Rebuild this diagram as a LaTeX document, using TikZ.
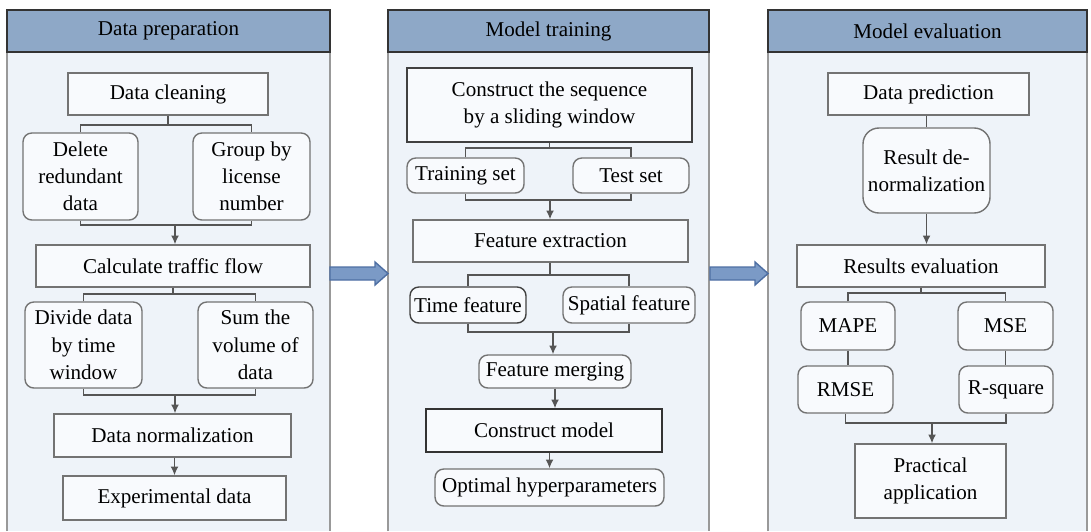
\documentclass[tikz,border=0pt]{standalone}
\usepackage{fontspec}
\setmainfont{Liberation Serif}
\usetikzlibrary{arrows.meta}
\definecolor{HeadBlue}{HTML}{8EA8C7}
\definecolor{PanelBlue}{HTML}{EEF3F9}
\definecolor{BoxFill}{HTML}{F8FAFD}
\definecolor{ArrowBlue}{HTML}{7B9AC6}
\definecolor{ArrowEdge}{HTML}{4E6FA3}
\definecolor{LineGray}{HTML}{555555}

\begin{document}
\begin{tikzpicture}[x=0.02cm, y=-0.02cm,
    font=\fontsize{12}{15.5}\selectfont,
    header/.style={draw=black!80, line width=1pt, fill=HeadBlue, minimum height=0.84cm, inner sep=0pt},
    plainbox/.style={draw=black!55, line width=0.8pt, fill=BoxFill, inner sep=1pt, align=center},
    roundbox/.style={plainbox, rounded corners=5pt},
    link/.style={draw=LineGray, line width=0.8pt},
    flow/.style={link, -{Latex[length=5pt, width=4.5pt]}}]
    \useasboundingbox (0,0) rectangle (1091,531);

    % Panels
    \foreach \xa/\xb in {7/330, 388/709, 768/1087} {
        \fill[PanelBlue] (\xa,52) rectangle (\xb,531);
        \draw[black!40, line width=1pt] (\xa,531) -- (\xa,52) -- (\xb,52) -- (\xb,531);
    }
    \node[header, minimum width=6.46cm] (prep) at (168.5,31) {Data preparation};
    \node[header, minimum width=6.42cm] (train) at (548.5,31) {Model training};
    \node[header, minimum width=6.38cm] (eval) at (927.5,31) {Model evaluation};

    % Block arrows between panels
    \fill[ArrowBlue, draw=ArrowEdge, line width=0.8pt]
        (330,267) -- (375,267) -- (375,262) -- (388,273.5) -- (375,285) -- (375,280) -- (330,280) -- cycle;
    \fill[ArrowBlue, draw=ArrowEdge, line width=0.8pt]
        (710,267) -- (755,267) -- (755,262) -- (768,273.5) -- (755,285) -- (755,280) -- (710,280) -- cycle;

    % Data preparation
    \node[plainbox, minimum width=4cm, minimum height=0.84cm] (clean) at (168,94) {Data cleaning};
    \node[roundbox, minimum width=2.3cm, minimum height=1.74cm] (delete) at (80.5,176.5) {Delete\\redundant\\data};
    \node[roundbox, minimum width=2.34cm, minimum height=1.74cm] (group) at (251.5,176.5) {Group by\\license\\number};
    \node[plainbox, minimum width=5.48cm, minimum height=0.84cm] (calc) at (173,266) {Calculate traffic flow};
    \node[roundbox, minimum width=2.34cm, minimum height=1.72cm] (divide) at (83.5,345) {Divide data\\by time\\window};
    \node[roundbox, minimum width=2.3cm, minimum height=1.72cm] (sum) at (255.5,345) {Sum the\\volume of\\data};
    \node[plainbox, minimum width=4.74cm, minimum height=0.86cm] (norm) at (172.5,435.5) {Data normalization};
    \node[plainbox, minimum width=4.46cm, minimum height=0.88cm] (expdata) at (174.5,498) {Experimental data};

    \coordinate (s1) at (168,125);
    \coordinate (m1) at (175,225);
    \coordinate (s2) at (173,294);
    \coordinate (m2) at (175,395);
    \draw[link] (clean.south) -- (s1);
    \draw[link] (delete.north) |- (s1) -| (group.north);
    \draw[link] (delete.south) |- (m1) -| (group.south);
    \draw[flow] (m1) -- (m1 |- calc.north);
    \draw[link] (calc.south) -- (s2);
    \draw[link] (divide.north) |- (s2) -| (sum.north);
    \draw[link] (divide.south) |- (m2) -| (sum.south);
    \draw[flow] (m2) -- (m2 |- norm.north);
    \draw[flow] (expdata.north |- norm.south) -- (expdata.north);

    % Model training
    \node[plainbox, draw=black!75, minimum width=5.7cm, minimum height=1.48cm] (seq) at (549.5,105) {Construct the sequence\\by a sliding window};
    \node[roundbox, minimum width=2.34cm, minimum height=0.7cm] (trainset) at (465.5,175.5) {Training set};
    \node[roundbox, minimum width=2.32cm, minimum height=0.7cm] (testset) at (631,175.5) {Test set};
    \node[plainbox, minimum width=5.5cm, minimum height=0.84cm] (featext) at (550.5,241) {Feature extraction};
    \node[roundbox, draw=black!75, minimum width=2.32cm, minimum height=0.72cm] (timefeat) at (468,305) {Time feature};
    \node[roundbox, minimum width=2.64cm, minimum height=0.72cm] (spatfeat) at (629,305) {Spatial feature};
    \node[roundbox, minimum width=3.04cm, minimum height=0.66cm] (featmerge) at (555,371.5) {Feature merging};
    \node[plainbox, draw=black!80, minimum width=4.72cm, minimum height=0.86cm] (model) at (544,430.5) {Construct model};
    \node[roundbox, minimum width=4.58cm, minimum height=0.74cm] (hyper) at (549.5,487.5) {Optimal hyperparameters};

    \coordinate (s3) at (549.5,148);
    \coordinate (m3) at (550,200);
    \coordinate (s4) at (550,275);
    \coordinate (m4) at (553,332);
    \draw[link] (seq.south) -- (s3);
    \draw[link] (trainset.north) |- (s3) -| (testset.north);
    \draw[link] (trainset.south) |- (m3) -| (testset.south);
    \draw[flow] (m3) -- (m3 |- featext.north);
    \draw[link] (s4 |- featext.south) -- (s4);
    \draw[link] (timefeat.north) |- (s4) -| (spatfeat.north);
    \draw[link] (timefeat.south) |- (m4) -| (spatfeat.south);
    \draw[flow] (m4) -- (m4 |- featmerge.north);
    \draw[flow] (featmerge.south) -- (featmerge.south |- model.north);
    \draw[flow] (hyper.north |- model.south) -- (hyper.north);

    % Model evaluation
    \node[plainbox, minimum width=4.02cm, minimum height=0.84cm] (predict) at (928.5,94) {Data prediction};
    \node[roundbox, rounded corners=9pt, minimum width=2.54cm, minimum height=1.7cm] (denorm) at (926.5,170.5) {Result de-\\normalization};
    \node[plainbox, minimum width=4.96cm, minimum height=0.84cm] (reseval) at (921,266) {Results evaluation};
    \node[roundbox, minimum width=1.88cm, minimum height=0.96cm] (mape) at (848,326) {MAPE};
    \node[roundbox, minimum width=1.9cm, minimum height=0.96cm] (mse) at (1005.5,326) {MSE};
    \node[roundbox, minimum width=1.9cm, minimum height=0.94cm] (rmse) at (845.5,389.5) {RMSE};
    \node[roundbox, minimum width=1.88cm, minimum height=0.94cm] (rsquare) at (1006,389.5) {R-square};
    \node[plainbox, minimum width=3.02cm, minimum height=1.48cm] (practical) at (930.5,481) {Practical\\application};

    \coordinate (s5) at (921,293);
    \coordinate (m5) at (932,423);
    \draw[link] (denorm.north |- predict.south) -- (denorm.north);
    \draw[flow] (denorm.south) -- (denorm.south |- reseval.north);
    \draw[link] (reseval.south) -- (s5);
    \draw[link] (mape.north) |- (s5) -| (mse.north);
    \draw[link] (mape.south) -- (mape.south |- rmse.north);
    \draw[link] (mse.south) -- (mse.south |- rsquare.north);
    \draw[link] (rmse.south) |- (m5) -| (rsquare.south);
    \draw[flow] (m5) -- (m5 |- practical.north);
\end{tikzpicture}
\end{document}
